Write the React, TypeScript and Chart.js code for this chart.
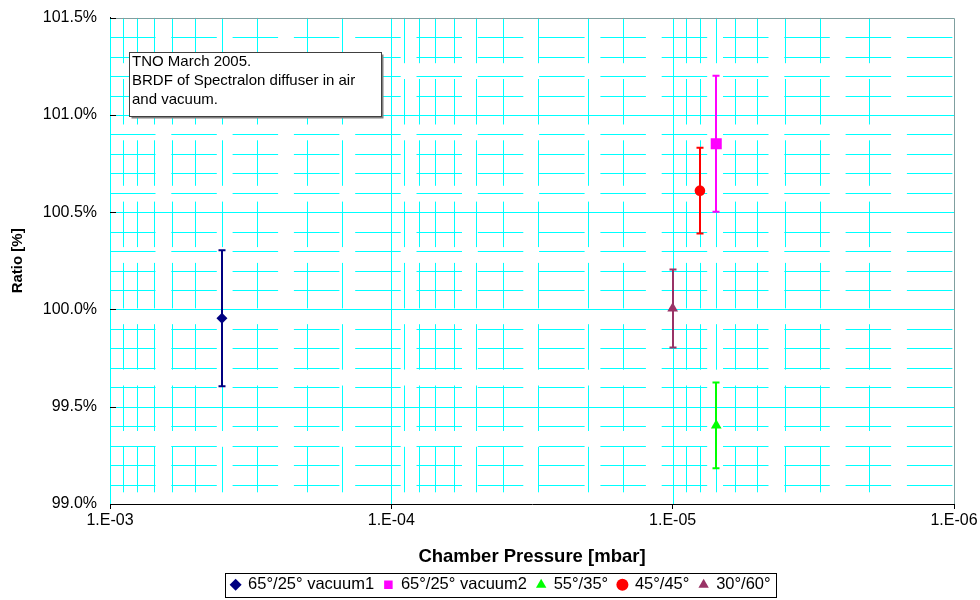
import React, { useEffect, useRef } from 'react';
import { Chart, registerables } from 'chart.js';

Chart.register(...registerables);

// ---------- data ----------
const SERIES_NAMES = ['65°/25° vacuum1', '65°/25° vacuum2', '55°/35°', '45°/45°', '30°/60°'];
const PRESSURE_MBAR = [4.0e-4, 7.0e-6, 7.0e-6, 8.0e-6, 1.0e-5];
const RATIO_PCT = [99.955, 100.852, 99.404, 100.611, 100.005];
const ERROR_PCT = [0.35, 0.35, 0.22, 0.22, 0.2];
const SERIES_COLORS = ['#000080', '#FF00FF', '#00FF00', '#FF0000', '#993366'];
const POINT_STYLES = ['rectRot', 'rect', 'triangle', 'circle', 'triangle'];
const POINT_RADII = [5.5, 7.8, 6.2, 5.3, 6.2];

const X_MIN = 1e-6;
const X_MAX = 1e-3;
const X_MAJOR_VALUES = [1e-3, 1e-4, 1e-5, 1e-6];
const X_TICK_LABELS = ['1.E-03', '1.E-04', '1.E-05', '1.E-06'];

const Y_MIN = 99.0;
const Y_MAX = 101.5;
const Y_MAJOR_STEP = 0.5;
const Y_MINOR_STEP = 0.1;

const X_TITLE = 'Chamber Pressure [mbar]';
const Y_TITLE = 'Ratio [%]';
const NOTE_LINES = ['TNO March 2005.', 'BRDF of Spectralon diffuser in air', 'and vacuum.'];

const FONT = "'Liberation Sans', Arial, Helvetica, sans-serif";
const GRID_COLOR = '#00FFFF';
const GRID_DASH = [45.5, 15.8];
const CLEAR = 'rgba(0,0,0,0)';

const isDecade = (v: number) => {
  if (!(v > 0)) return false;
  const l = Math.log10(v);
  return Math.abs(l - Math.round(l)) < 1e-6;
};

const xLabelFor = (v: number) => {
  for (let i = 0; i < X_MAJOR_VALUES.length; i++) {
    if (Math.abs(Math.log10(v) - Math.log10(X_MAJOR_VALUES[i])) < 1e-6) return X_TICK_LABELS[i];
  }
  return '';
};

// ---------- plugins ----------
const excelGridPlugin = {
  id: 'excelGrid',
  beforeDatasetsDraw(chart: any) {
    const { ctx, chartArea, scales } = chart;
    const { left, right, top, bottom } = chartArea;
    const x = scales.x;
    const y = scales.y;
    ctx.save();
    ctx.beginPath();
    ctx.rect(left, top, right - left, bottom - top);
    ctx.clip();
    ctx.strokeStyle = GRID_COLOR;
    ctx.lineWidth = 1;

    // horizontal lines
    const n = Math.round((Y_MAX - Y_MIN) / Y_MINOR_STEP);
    for (let i = 0; i <= n; i++) {
      const v = Y_MIN + i * Y_MINOR_STEP;
      const r = v / Y_MAJOR_STEP;
      const major = Math.abs(r - Math.round(r)) < 1e-6;
      const py = Math.round(y.getPixelForValue(v)) + 0.5;
      ctx.setLineDash(major ? [] : GRID_DASH);
      ctx.lineDashOffset = 0;
      ctx.beginPath();
      ctx.moveTo(left, py);
      ctx.lineTo(right, py);
      ctx.stroke();
    }

    // vertical lines
    x.ticks.forEach((t: any) => {
      const major = isDecade(t.value);
      const px = Math.round(x.getPixelForValue(t.value)) + 0.5;
      ctx.setLineDash(major ? [] : GRID_DASH);
      ctx.lineDashOffset = 0;
      ctx.beginPath();
      ctx.moveTo(px, top);
      ctx.lineTo(px, bottom);
      ctx.stroke();
    });
    ctx.restore();

    // top / right frame
    ctx.save();
    ctx.strokeStyle = '#7f9f9f';
    ctx.lineWidth = 1;
    ctx.beginPath();
    ctx.moveTo(left, Math.round(top) + 0.5);
    ctx.lineTo(Math.round(right) + 0.5, Math.round(top) + 0.5);
    ctx.lineTo(Math.round(right) + 0.5, bottom);
    ctx.stroke();

    // inside major ticks on y axis
    ctx.strokeStyle = '#000';
    const m = Math.round((Y_MAX - Y_MIN) / Y_MAJOR_STEP);
    for (let i = 0; i <= m; i++) {
      const v = Y_MIN + i * Y_MAJOR_STEP;
      const py = Math.round(y.getPixelForValue(v)) + 0.5;
      ctx.beginPath();
      ctx.moveTo(left, py);
      ctx.lineTo(left + 6, py);
      ctx.stroke();
    }
    ctx.restore();

    // error bars
    ctx.save();
    ctx.lineWidth = 2;
    chart.data.datasets.forEach((ds: any, i: number) => {
      const px = Math.round(x.getPixelForValue(PRESSURE_MBAR[i]));
      const yt = y.getPixelForValue(RATIO_PCT[i] + ERROR_PCT[i]);
      const yb = y.getPixelForValue(RATIO_PCT[i] - ERROR_PCT[i]);
      ctx.strokeStyle = SERIES_COLORS[i];
      ctx.beginPath();
      ctx.moveTo(px, yt);
      ctx.lineTo(px, yb);
      ctx.moveTo(px - 3.5, yt);
      ctx.lineTo(px + 3.5, yt);
      ctx.moveTo(px - 3.5, yb);
      ctx.lineTo(px + 3.5, yb);
      ctx.stroke();
    });
    ctx.restore();
  },
  afterDraw(chart: any) {
    const { ctx, chartArea } = chart;
    // note box
    const bx = Math.round(chartArea.left + 19) + 0.5;
    const by = Math.round(chartArea.top + 34) + 0.5;
    const bw = 252;
    const bh = 64;
    ctx.save();
    ctx.fillStyle = '#808080';
    ctx.fillRect(bx + 2, by + 2, bw, bh);
    ctx.fillStyle = '#FFFFFF';
    ctx.fillRect(bx, by, bw, bh);
    ctx.strokeStyle = '#404040';
    ctx.lineWidth = 1;
    ctx.strokeRect(bx, by, bw, bh);
    ctx.fillStyle = '#000';
    ctx.font = `15px ${FONT}`;
    ctx.textAlign = 'left';
    ctx.textBaseline = 'alphabetic';
    NOTE_LINES.forEach((line, i) => {
      ctx.fillText(line, bx + 2.5, by + 13.5 + i * 19.2);
    });
    ctx.restore();

    // legend frame
    const lg = chart.legend;
    if (lg && lg.legendHitBoxes && lg.legendHitBoxes.length) {
      const hb = lg.legendHitBoxes;
      let l = Infinity, r = -Infinity, t = Infinity, b = -Infinity;
      hb.forEach((h: any) => {
        l = Math.min(l, h.left);
        r = Math.max(r, h.left + h.width);
        t = Math.min(t, h.top);
        b = Math.max(b, h.top + h.height);
      });
      ctx.save();
      ctx.strokeStyle = '#000';
      ctx.lineWidth = 1;
      ctx.strokeRect(Math.round(l - 6) + 0.5, Math.round(t - 4) + 0.5, Math.round(r - l + 12), Math.round(b - t + 7));
      ctx.restore();
    }
  },
};

export default function App() {
  const canvasRef = useRef<HTMLCanvasElement | null>(null);

  useEffect(() => {
    const canvas = canvasRef.current;
    if (!canvas) return;
    const datasets = SERIES_NAMES.map((name, i) => ({
      label: name,
      data: [{ x: PRESSURE_MBAR[i], y: RATIO_PCT[i] }],
      backgroundColor: SERIES_COLORS[i],
      borderColor: SERIES_COLORS[i],
      borderWidth: 0,
      pointStyle: POINT_STYLES[i],
      pointRadius: POINT_RADII[i],
      pointHoverRadius: POINT_RADII[i],
      showLine: false,
      yAxisID: 'y',
    }));

    const chart = new Chart(canvas, {
      type: 'scatter',
      data: { datasets } as any,
      plugins: [excelGridPlugin],
      options: {
        responsive: false,
        animation: false,
        devicePixelRatio: 1,
        layout: { padding: { left: 22, right: 0, top: 17.7, bottom: -3 } },
        plugins: {
          legend: {
            position: 'bottom',
            labels: {
              usePointStyle: true,
              boxWidth: 8.5,
              boxHeight: 8.5,
              padding: 10,
              color: '#000',
              font: { size: 16.5, family: FONT },
            },
          },
          tooltip: { enabled: false },
        },
        scales: {
          x: {
            type: 'logarithmic',
            reverse: true,
            min: X_MIN,
            max: X_MAX,
            afterFit: (s: any) => {
              s.height = 62.5;
            },
            border: { color: '#000', width: 1 },
            grid: {
              drawOnChartArea: false,
              drawTicks: true,
              tickLength: 5,
              tickColor: (c: any) => (c.tick && isDecade(c.tick.value) ? '#000' : CLEAR),
            },
            ticks: {
              autoSkip: false,
              maxRotation: 0,
              minRotation: 0,
              padding: 2,
              color: '#000',
              font: { size: 16, family: FONT },
              callback: (v: any) => xLabelFor(Number(v)),
            },
            title: {
              display: true,
              text: X_TITLE,
              color: '#000',
              font: { size: 18.5, weight: 'bold', family: FONT },
              padding: { top: 0, bottom: -1.5 },
            },
          },
          y: {
            position: 'left',
            min: Y_MIN,
            max: Y_MAX,
            afterFit: (s: any) => {
              s.width = 88;
            },
            border: { color: '#000', width: 1 },
            grid: { drawOnChartArea: false, drawTicks: true, tickLength: 5, tickColor: CLEAR },
            ticks: {
              stepSize: Y_MAJOR_STEP,
              padding: 8,
              color: '#000',
              font: { size: 16, family: FONT },
              callback: (v: any) => Number(v).toFixed(1) + '%',
            },
            title: {
              display: true,
              text: Y_TITLE,
              color: '#000',
              font: { size: 15, weight: 'bold', family: FONT },
              padding: { top: -13, bottom: 0 },
            },
          },
          yRight: {
            position: 'right',
            min: Y_MIN,
            max: Y_MAX,
            afterFit: (s: any) => {
              s.width = 26;
            },
            border: { display: false },
            grid: { display: false, drawTicks: false },
            ticks: { display: false },
          },
        },
      } as any,
    });
    return () => chart.destroy();
  }, []);

  return (
    <div style={{ position: 'absolute', left: 0, top: 0, width: 980, height: 600, background: '#fff' }}>
      <canvas ref={canvasRef} width={980} height={600} style={{ width: 980, height: 600, display: 'block' }} />
    </div>
  );
}
